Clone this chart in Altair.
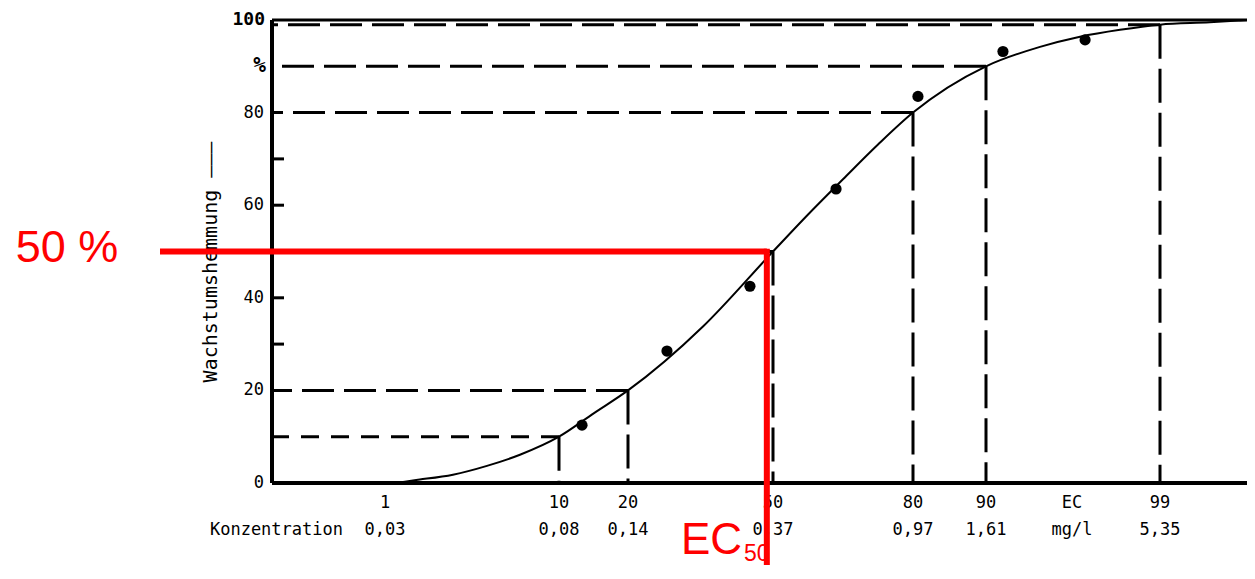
import altair as alt
import pandas as pd

# ---- data ----
# dose-response curve (concentration mg/l, growth inhibition %)
curve_conc = [0.012, 0.031, 0.0365, 0.044, 0.0533, 0.0642, 0.08, 0.1063, 0.14, 0.2314,
              0.37, 0.471, 0.599, 0.7624, 0.97, 1.61, 2.337, 3.08, 4.06, 5.35, 7.43, 9.06, 9.49]
curve_pct = [0, 0, 0.75, 1.8, 3.7, 6.1, 10, 15.1, 20, 33.8,
             50, 58.0, 65.6, 73.1, 80, 90, 94.2, 96.4, 97.9, 99, 99.5, 99.9, 100]

# measured points
dot_conc = [0.0964, 0.1818, 0.317, 0.571, 1.004, 1.81, 3.19]
dot_pct = [12.5, 28.5, 42.5, 63.5, 83.5, 93.2, 95.7]

# EC levels with dashed guide lines
ec_levels = [10, 20, 50, 80, 90, 99]
ec_conc = [0.08, 0.14, 0.37, 0.97, 1.61, 5.35]

# x-axis label rows
lbl_conc = [0.03, 0.08, 0.14, 0.37, 0.97, 1.61, 2.914, 5.35]
lbl_row1 = ["1", "10", "20", "50", "80", "90", "EC", "99"]
lbl_row2 = ["0,03", "0,08", "0,14", "0,37", "0,97", "1,61", "mg/l", "5,35"]

# y-axis labels and inner ticks
ylab_val = [0, 20, 40, 60, 80]
ylab_txt = ["0", "20", "40", "60", "80"]
ytick_val = [30, 40, 50, 60, 70]

# highlighted EC50 annotation
ec50_conc = [0.355]
ec50_pct = [50]

# ---- scale layout (non-uniform printed log axis) ----
X_MIN, X_MAX = 0.012, 9.49
scale_domain = [X_MIN, 0.03, 0.08, 0.14, 0.37, 0.97, 1.61, 5.35, X_MAX]
scale_range = [0, 113, 287, 356, 501, 641, 714, 888, 975]
W, H = 975, 463

xs = alt.Scale(type="log", domain=scale_domain, range=scale_range, nice=False)
ys = alt.Scale(domain=[0, 100], nice=False, zero=False)

curve_df = pd.DataFrame({"c": curve_conc, "p": curve_pct})
dot_df = pd.DataFrame({"c": dot_conc, "p": dot_pct})
ec_df = pd.DataFrame({"c": ec_conc, "p": ec_levels})
lbl_df = pd.DataFrame({"c": lbl_conc, "r1": lbl_row1, "r2": lbl_row2})
ylab_df = pd.DataFrame({"p": ylab_val, "t": ylab_txt})
ytick_df = pd.DataFrame({"p": ytick_val})
red_df = pd.DataFrame({"c": ec50_conc, "p": ec50_pct})

X = lambda f="c": alt.X(f, type="quantitative", scale=xs, axis=None)
Y = lambda f="p": alt.Y(f, type="quantitative", scale=ys, axis=None)

MONO = "DejaVu Sans Mono"

# frame
frame_h = alt.Chart(pd.DataFrame({"p": [0, 100], "w": [4, 3]})).mark_rule(color="black").encode(
    y=Y(), strokeWidth=alt.StrokeWidth("w:Q", scale=None))
frame_v = alt.Chart(pd.DataFrame({"c": [X_MIN]})).mark_rule(color="black", strokeWidth=4).encode(x=X())

ticks = alt.Chart(ytick_df).mark_rule(color="black", strokeWidth=3).encode(
    y=Y(), x=alt.value(0), x2=alt.value(12))

h_dash = alt.Chart(ec_df).transform_filter("datum.p != 10").mark_rule(
    color="black", strokeWidth=3, strokeDash=[32, 10]).encode(x=X(), x2=alt.value(0), y=Y())
h_dash10 = alt.Chart(ec_df).transform_filter("datum.p == 10").mark_rule(
    color="black", strokeWidth=3, strokeDash=[18, 12]).encode(x=X(), x2=alt.value(0), y=Y())
v_dash = alt.Chart(ec_df).mark_rule(color="black", strokeWidth=3, strokeDash=[34, 10]).encode(
    x=X(), y=Y(), y2=alt.datum(0))

curve = alt.Chart(curve_df).mark_line(color="black", strokeWidth=2, interpolate="monotone").encode(
    x=X(), y=Y())
dots = alt.Chart(dot_df).mark_point(filled=True, color="black", size=125, opacity=1).encode(x=X(), y=Y())

ylabels = alt.Chart(ylab_df).mark_text(font=MONO, fontSize=17, align="right", baseline="middle",
                                       color="black").encode(y=Y(), x=alt.value(-8), text="t:N")
ylab100 = alt.Chart(pd.DataFrame({"p": [100], "t": ["100"]})).mark_text(
    font=MONO, fontSize=18, fontWeight="bold", align="right", baseline="middle", color="black").encode(
    y=Y(), x=alt.value(-7), text="t:N")
ylabpct = alt.Chart(pd.DataFrame({"p": [90], "t": ["%"]})).mark_text(
    font=MONO, fontSize=21, fontWeight="bold", align="right", baseline="middle", color="black").encode(
    y=Y(), x=alt.value(-6), text="t:N")
ytitle = alt.Chart(pd.DataFrame({"t": ["Wachstumshemmung \u2014\u2014\u2014"]})).mark_text(
    font=MONO, fontSize=20, angle=270, align="center", baseline="middle", color="black").encode(
    x=alt.value(-61), y=alt.value(242), text="t:N")

row1 = alt.Chart(lbl_df).mark_text(font=MONO, fontSize=17, baseline="middle", color="black").encode(
    x=X(), y=alt.value(483), text="r1:N")
row2 = alt.Chart(lbl_df).mark_text(font=MONO, fontSize=17, baseline="middle", color="black").encode(
    x=X(), y=alt.value(510), text="r2:N")
konz = alt.Chart(pd.DataFrame({"t": ["Konzentration"]})).mark_text(
    font=MONO, fontSize=17, align="right", baseline="middle", color="black").encode(
    x=alt.value(71), y=alt.value(510), text="t:N")

red_h = alt.Chart(red_df).mark_rule(color="#ff0000", strokeWidth=6).encode(
    x=X(), x2=alt.value(-112), y=Y())
red_v = alt.Chart(red_df).mark_rule(color="#ff0000", strokeWidth=6).encode(
    x=X(), y=alt.Y("p2:Q", scale=ys, axis=None), y2=alt.value(545)).transform_calculate(p2="datum.p + 0.6")
red_txt = alt.Chart(red_df).mark_text(font="Liberation Sans", fontSize=45, color="#ff0000",
                                      align="center", baseline="middle", dy=-4).encode(
    x=alt.value(-205), y=Y(), text=alt.value("50 %"))
ec_txt = alt.Chart(pd.DataFrame({"t": ["EC"]})).mark_text(
    font="Liberation Sans", fontSize=44, color="#ff0000", align="left", baseline="alphabetic").encode(
    x=alt.value(409), y=alt.value(534), text="t:N")
ec_sub = alt.Chart(pd.DataFrame({"t": ["50"]})).mark_text(
    font="Liberation Sans", fontSize=23, color="#ff0000", align="left", baseline="alphabetic").encode(
    x=alt.value(472), y=alt.value(541), text="t:N")

chart = alt.layer(
    frame_h, frame_v, ticks, h_dash, h_dash10, v_dash, curve, dots,
    ylabels, ylab100, ylabpct, ytitle, row1, row2, konz,
    red_h, red_v, red_txt, ec_txt, ec_sub
).properties(
    width=W, height=H,
    padding={"left": 264, "top": 12, "right": 0, "bottom": 83},
    autosize=alt.AutoSizeParams(type="none"),
).configure_view(stroke=None).configure(background="white")

chart.save("out.html", embed_options={"renderer": "svg", "actions": False})
